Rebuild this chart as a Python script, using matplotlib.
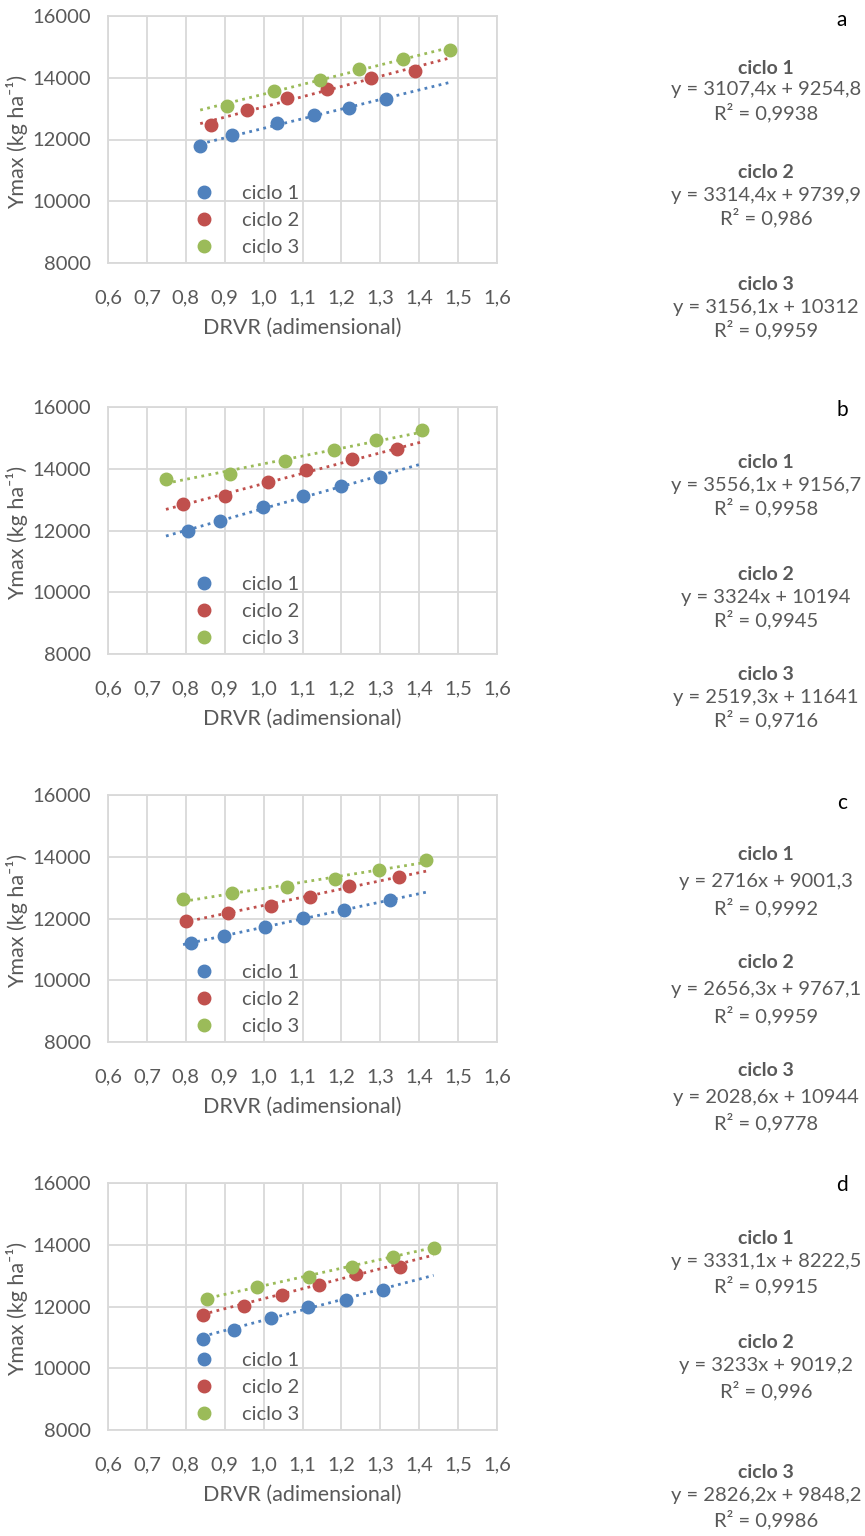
import numpy as np
import matplotlib.pyplot as plt

plt.rcParams['font.family'] = ['Lato', 'DejaVu Sans']

## data: DRVR (x) and Ymax (y) per panel and cycle
panels = ['a', 'b', 'c', 'd']
series_names = ['ciclo 1', 'ciclo 2', 'ciclo 3']

x_a = [[0.837, 0.920, 1.034, 1.129, 1.220, 1.315],
       [0.866, 0.957, 1.060, 1.163, 1.277, 1.388],
       [0.906, 1.028, 1.144, 1.246, 1.359, 1.480]]
y_a = [[11800, 12130, 12520, 12790, 13030, 13300],
       [12480, 12950, 13330, 13620, 14000, 14230],
       [13090, 13580, 13920, 14280, 14620, 14890]]

x_b = [[0.806, 0.889, 0.998, 1.100, 1.200, 1.300],
       [0.793, 0.902, 1.012, 1.108, 1.226, 1.344],
       [0.749, 0.914, 1.054, 1.181, 1.290, 1.407]]
y_b = [[11970, 12320, 12760, 13130, 13450, 13720],
       [12860, 13130, 13580, 13970, 14310, 14630],
       [13680, 13840, 14250, 14600, 14940, 15240]]

x_c = [[0.814, 0.898, 1.004, 1.101, 1.207, 1.326],
       [0.800, 0.909, 1.020, 1.118, 1.220, 1.347],
       [0.793, 0.920, 1.060, 1.184, 1.297, 1.418]]
y_c = [[11210, 11440, 11720, 12020, 12260, 12590],
       [11910, 12180, 12410, 12690, 13050, 13340],
       [12640, 12820, 13020, 13290, 13560, 13910]]

x_d = [[0.843, 0.925, 1.019, 1.113, 1.213, 1.307],
       [0.843, 0.950, 1.047, 1.142, 1.237, 1.350],
       [0.855, 0.983, 1.116, 1.228, 1.333, 1.437]]
y_d = [[10950, 11250, 11620, 12000, 12200, 12520],
       [11730, 12030, 12360, 12710, 13040, 13290],
       [12250, 12630, 12950, 13280, 13600, 13890]]

# linear trendlines: slope, intercept, R2
slope_a = [3107.4, 3314.4, 3156.1]
icpt_a = [9254.8, 9739.9, 10312]
r2_a = [0.9938, 0.986, 0.9959]

slope_b = [3556.1, 3324, 2519.3]
icpt_b = [9156.7, 10194, 11641]
r2_b = [0.9958, 0.9945, 0.9716]

slope_c = [2716, 2656.3, 2028.6]
icpt_c = [9001.3, 9767.1, 10944]
r2_c = [0.9992, 0.9959, 0.9778]

slope_d = [3331.1, 3233, 2826.2]
icpt_d = [8222.5, 9019.2, 9848.2]
r2_d = [0.9915, 0.996, 0.9986]

xticks = [0.6, 0.7, 0.8, 0.9, 1.0, 1.1, 1.2, 1.3, 1.4, 1.5, 1.6]
yticks = [8000, 10000, 12000, 14000, 16000]

colors = ['#4F81BD', '#C0504D', '#9BBB59']
TXT = '#595959'
GRID = '#D9D9D9'

W, H = 865, 1536
fig = plt.figure(figsize=(W / 100, H / 100), dpi=100)

# axes tops (px) and y of the text rows on the right (px)
ax_tops = [16, 407, 795, 1183]
letter_y = [20, 410, 803, 1185]
block_y = [[68, 173, 285], [463, 575, 675], [855, 963, 1070], [1238, 1343, 1472]]
row_gap = [[22, 45], [22, 45], [27, 53], [23, 48]]

def fmt(v):
    return f'{v:g}'.replace('.', ',')

all_x = [x_a, x_b, x_c, x_d]
all_y = [y_a, y_b, y_c, y_d]
all_slope = [slope_a, slope_b, slope_c, slope_d]
all_icpt = [icpt_a, icpt_b, icpt_c, icpt_d]
all_r2 = [r2_a, r2_b, r2_c, r2_d]

for p in range(4):
    top = ax_tops[p]
    ax = fig.add_axes([108 / W, 1 - (top + 247) / H, 389 / W, 247 / H])
    xs, ys = all_x[p], all_y[p]
    xmin = min(min(v) for v in xs)
    xmax = max(max(v) for v in xs)
    xl = np.array([xmin, xmax])
    for i in range(3):
        ax.plot(xl, all_slope[p][i] * xl + all_icpt[p][i], ls=(0, (1, 1.6)),
                lw=2, color=colors[i], zorder=2, label='_nolegend_')
    for i in range(3):
        ax.plot(xs[i], ys[i], 'o', ms=9, color=colors[i], zorder=3,
                label=series_names[i])

    ax.set_xlim(0.6, 1.6)
    ax.set_ylim(8000, 16000)
    ax.set_xticks(xticks)
    ax.set_xticklabels([f'{t:.1f}'.replace('.', ',') for t in xticks])
    ax.set_yticks(yticks)
    ax.grid(True, color=GRID, lw=1.3)
    ax.set_axisbelow(True)
    for s in ax.spines.values():
        s.set_color(GRID)
        s.set_linewidth(1.3)
    ax.tick_params(length=0, colors=TXT, labelsize=14.5)
    ax.tick_params(axis='x', pad=19)
    ax.tick_params(axis='y', pad=12)
    ax.set_xlabel('DRVR (adimensional)', color=TXT, fontsize=15.5)
    ax.xaxis.set_label_coords(0.5, -0.222)
    ax.set_ylabel('Ymax (kg ha⁻¹)', color=TXT, fontsize=15.5)
    ax.yaxis.set_label_coords(-0.205, 0.49)

    leg = ax.legend(loc='lower left', bbox_to_anchor=(0.21, -0.005), frameon=False,
                    fontsize=14.5, handlelength=0.6, handletextpad=1.6,
                    labelspacing=0.5, borderaxespad=0)
    for t in leg.get_texts():
        t.set_color(TXT)

    # panel letter and regression equations
    fig.text(842 / W, 1 - letter_y[p] / H, panels[p], fontsize=15, color='black',
             ha='center', va='center')
    for i in range(3):
        y0 = block_y[p][i]
        fig.text(766 / W, 1 - y0 / H, series_names[i], fontsize=14, color=TXT,
                 fontweight='bold', ha='center', va='center')
        eq = f'y = {fmt(all_slope[p][i])}x + {fmt(all_icpt[p][i])}'
        fig.text(766 / W, 1 - (y0 + row_gap[p][0]) / H, eq, fontsize=14.5,
                 color=TXT, ha='center', va='center')
        fig.text(766 / W, 1 - (y0 + row_gap[p][1]) / H,
                 'R² = ' + fmt(all_r2[p][i]), fontsize=14.5,
                 color=TXT, ha='center', va='center')

fig.savefig('out.png', dpi=100)
